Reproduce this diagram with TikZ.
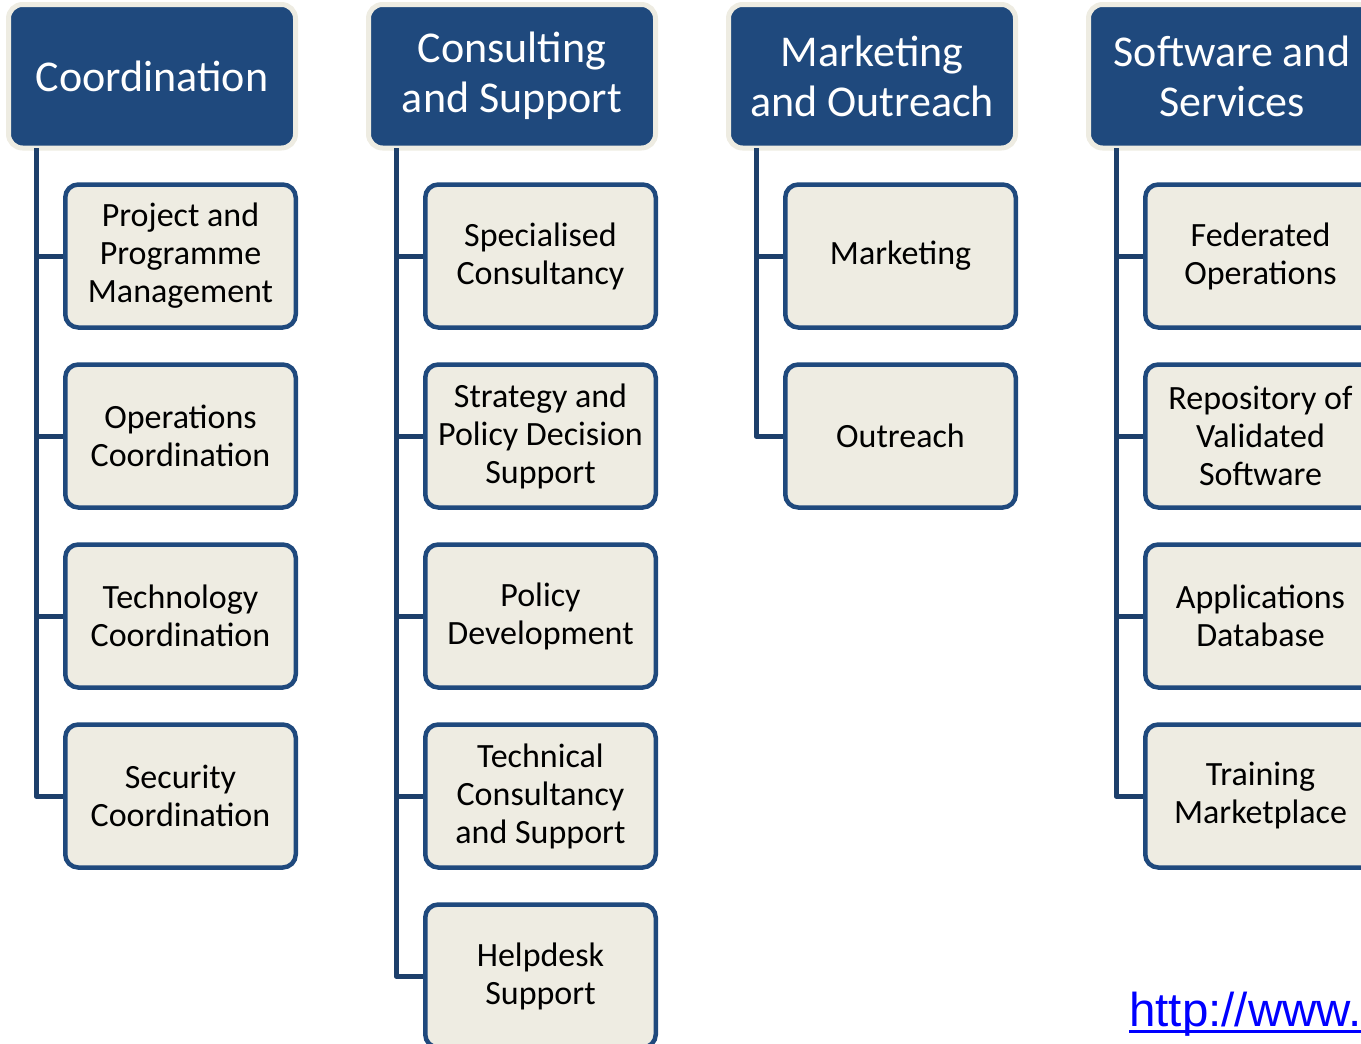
\documentclass[tikz,border=0pt]{standalone}
\usepackage{fontspec}
\setmainfont{Carlito}
\newfontfamily\linkfont{Liberation Sans}
\usetikzlibrary{calc}
\definecolor{navy}{HTML}{1F497D}
\definecolor{navyline}{HTML}{1D3F6B}
\definecolor{tan}{HTML}{EEECE2}
\definecolor{linkblue}{HTML}{0000FF}
\tikzset{
  headbox/.style={rectangle, rounded corners=14pt, fill=navy, draw=tan, line width=5pt,
    minimum width=287pt, minimum height=143.5pt, inner sep=0pt, text=white, align=center,
    font=\fontsize{44}{50}\selectfont},
  childbox/.style={rectangle, rounded corners=13pt, fill=tan, draw=navy, line width=4.5pt,
    minimum width=230.5pt, minimum height=143pt, inner sep=0pt, text=black, align=center,
    font=\fontsize{34}{38}\selectfont},
  tree/.style={draw=navyline, line width=5pt, line join=round, line cap=butt},
}
\begin{document}
\begin{tikzpicture}[x=1pt,y=-1pt]
\useasboundingbox (0,0) rectangle (1361,1044);
% headings
\node[headbox] (h1) at (152,76.25) {Coordination};
\node[headbox] (h2) at (512,76.25) {Consulting\\and Support};
\node[headbox] (h3) at (872,76.25) {Marketing\\and Outreach};
\node[headbox] (h4) at (1232,76.25) {Software and\\Services};
% column 1
\node[childbox] (c11) at (180.5,256) {Project and\\Programme\\Management};
\node[childbox] (c12) at (180.5,436) {Operations\\Coordination};
\node[childbox] (c13) at (180.5,616) {Technology\\Coordination};
\node[childbox] (c14) at (180.5,796) {Security\\Coordination};
% column 2
\node[childbox] (c21) at (540.5,256) {Specialised\\Consultancy};
\node[childbox] (c22) at (540.5,436) {Strategy and\\Policy Decision\\Support};
\node[childbox] (c23) at (540.5,616) {Policy\\Development};
\node[childbox] (c24) at (540.5,796) {Technical\\Consultancy\\and Support};
\node[childbox] (c25) at (540.5,976) {Helpdesk\\Support};
% column 3
\node[childbox] (c31) at (900.5,256) {Marketing};
\node[childbox] (c32) at (900.5,436) {Outreach};
% column 4
\node[childbox] (c41) at (1260.5,256) {Federated\\Operations};
\node[childbox] (c42) at (1260.5,436) {Repository of\\Validated\\Software};
\node[childbox] (c43) at (1260.5,616) {Applications\\Database};
\node[childbox] (c44) at (1260.5,796) {Training\\Marketplace};
% trunk coordinates
\coordinate (t1) at ($(h1.south west)+(30,-2.5)$);
\coordinate (t2) at ($(h2.south west)+(30,-2.5)$);
\coordinate (t3) at ($(h3.south west)+(30,-2.5)$);
\coordinate (t4) at ($(h4.south west)+(30,-2.5)$);
% connectors
\draw[tree] (t1) |- (c14.west);
\foreach \c in {c11,c12,c13} \draw[tree] (t1 |- \c.west) -- (\c.west);
\draw[tree] (t2) |- (c25.west);
\foreach \c in {c21,c22,c23,c24} \draw[tree] (t2 |- \c.west) -- (\c.west);
\draw[tree] (t3) |- (c32.west);
\draw[tree] (t3 |- c31.west) -- (c31.west);
\draw[tree] (t4) |- (c44.west);
\foreach \c in {c41,c42,c43} \draw[tree] (t4 |- \c.west) -- (\c.west);
% link
\node[anchor=base west, inner sep=0pt, text=linkblue, font=\linkfont\fontsize{47.5}{50}\selectfont] (link) at (1129,1026) {http://www.};
\draw[linkblue, line width=3pt] ([yshift=-5pt]link.base west) -- ([yshift=-5pt]link.base east);
\end{tikzpicture}
\end{document}
